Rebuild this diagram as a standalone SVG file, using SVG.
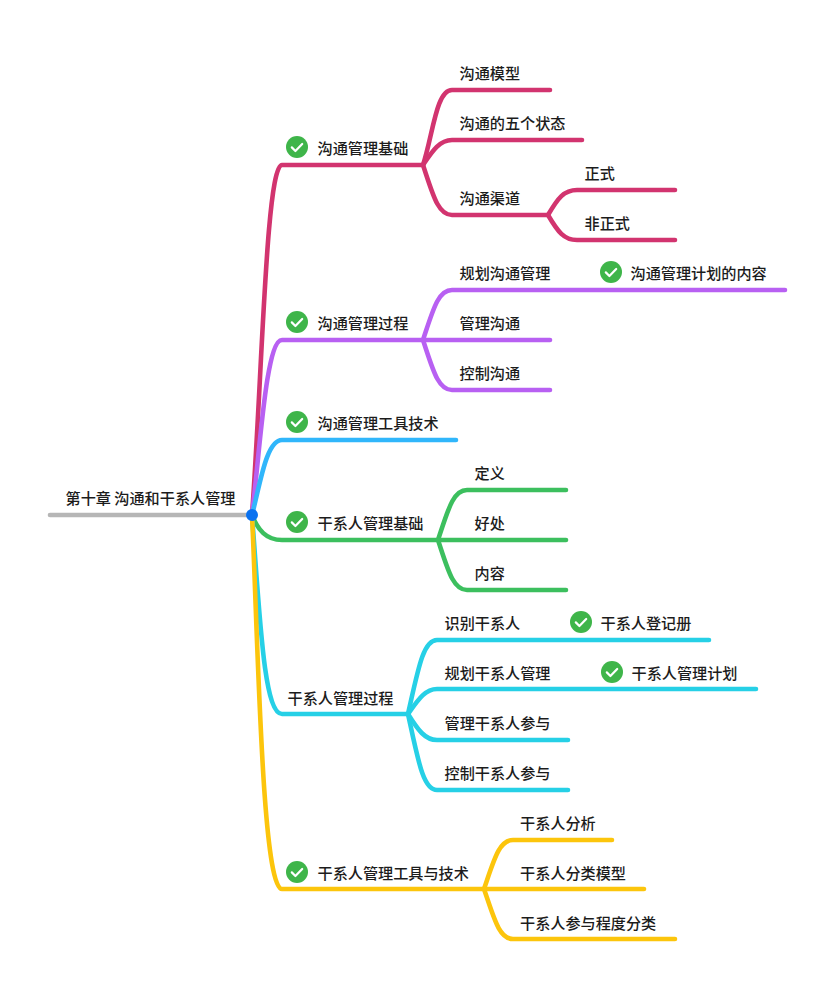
<svg xmlns="http://www.w3.org/2000/svg" width="834" height="990" viewBox="0 0 834 990">
<style>
text{font-family:"Noto Sans CJK SC","Noto Sans",sans-serif;font-size:15.15px;font-weight:500;fill:#1c1c1c}
path{fill:none;stroke-width:4.6;stroke-linecap:round;stroke-linejoin:round}
.p{stroke:#d2346f}.u{stroke:#b860f2}.b{stroke:#30b6fb}.g{stroke:#3cbf5e}.c{stroke:#26d0e6}.y{stroke:#fcc50c}
</style>
<defs>
<g id="check"><circle r="11" fill="#3fb54a"/><path d="M-5.2 0.4L-1.6 4L5.2-3" style="stroke:#fff;stroke-width:2.2"/></g>
</defs>
<rect width="834" height="990" fill="#fff"/>
<g id="connectors">
<path d="M50 515H252" style="stroke:#b6b6b6"/>
<path class="p" d="M252 515C262 380 266 165 282 165H423"/>
<path class="u" d="M252 515C260 450 266 340 282 340H423"/>
<path class="b" d="M252 515C260 485 266 440 282 440H456"/>
<path class="g" d="M252 515C258 530 266 540 282 540H438"/>
<path class="c" d="M252 515C260 620 264 714 282 714H408"/>
<path class="y" d="M252 515C258 640 262 889 282 889H484"/>
<path class="p" d="M423 165C433 135 436 90 452 90H550"/>
<path class="p" d="M423 165C433 150 440 140 452 140H582"/>
<path class="p" d="M423 165C433 195 438 215 452 215H548"/>
<path class="p" d="M548 215C558 198 564 190 577 190H675"/>
<path class="p" d="M548 215C558 232 564 240 577 240H675"/>
<path class="u" d="M423 340C433 310 438 290 452 290H785"/>
<path class="u" d="M423 340H550"/>
<path class="u" d="M423 340C433 370 438 390 452 390H550"/>
<path class="g" d="M438 540C448 510 453 490 467 490H566"/>
<path class="g" d="M438 540H566"/>
<path class="g" d="M438 540C448 570 453 590 467 590H566"/>
<path class="c" d="M408 714C418 670 423 640 437 640H709"/>
<path class="c" d="M408 714C418 700 425 689 437 689H756"/>
<path class="c" d="M408 714C418 730 425 740 437 740H568"/>
<path class="c" d="M408 714C418 760 423 790 437 790H568"/>
<path class="y" d="M484 889C494 860 499 840 513 840H612"/>
<path class="y" d="M484 889H644"/>
<path class="y" d="M484 889C494 918 499 939 513 939H675"/>
</g>
<g id="root"><text x="65.5" y="503.5">第十章 沟通和干系人管理</text><circle cx="252" cy="515" r="6" fill="#0a72f0"/></g>
<g id="n1"><use href="#check" x="297" y="147"/><text x="317.5" y="154">沟通管理基础</text></g>
<g id="n1a"><text x="459.5" y="79">沟通模型</text></g>
<g id="n1b"><text x="459.5" y="129">沟通的五个状态</text></g>
<g id="n1c"><text x="459.5" y="204">沟通渠道</text></g>
<g id="n1c1"><text x="584.5" y="179">正式</text></g>
<g id="n1c2"><text x="584.5" y="229">非正式</text></g>
<g id="n2"><use href="#check" x="297" y="322"/><text x="317.5" y="329">沟通管理过程</text></g>
<g id="n2a"><text x="459.5" y="279">规划沟通管理</text></g>
<g id="n2a1"><use href="#check" x="611" y="272"/><text x="630.5" y="279">沟通管理计划的内容</text></g>
<g id="n2b"><text x="459.5" y="329">管理沟通</text></g>
<g id="n2c"><text x="459.5" y="379">控制沟通</text></g>
<g id="n3"><use href="#check" x="297" y="422"/><text x="317.5" y="429">沟通管理工具技术</text></g>
<g id="n4"><use href="#check" x="297" y="522"/><text x="317.5" y="529">干系人管理基础</text></g>
<g id="n4a"><text x="474.5" y="479">定义</text></g>
<g id="n4b"><text x="474.5" y="529">好处</text></g>
<g id="n4c"><text x="474.5" y="579">内容</text></g>
<g id="n5"><text x="287.5" y="704">干系人管理过程</text></g>
<g id="n5a"><text x="444.5" y="629">识别干系人</text></g>
<g id="n5a1"><use href="#check" x="581" y="622"/><text x="600.5" y="629">干系人登记册</text></g>
<g id="n5b"><text x="444.5" y="679">规划干系人管理</text></g>
<g id="n5b1"><use href="#check" x="612" y="672"/><text x="631.5" y="679">干系人管理计划</text></g>
<g id="n5c"><text x="444.5" y="729">管理干系人参与</text></g>
<g id="n5d"><text x="444.5" y="779">控制干系人参与</text></g>
<g id="n6"><use href="#check" x="297" y="872"/><text x="317.5" y="879">干系人管理工具与技术</text></g>
<g id="n6a"><text x="520" y="829">干系人分析</text></g>
<g id="n6b"><text x="520" y="879">干系人分类模型</text></g>
<g id="n6c"><text x="520" y="929">干系人参与程度分类</text></g>
</svg>
